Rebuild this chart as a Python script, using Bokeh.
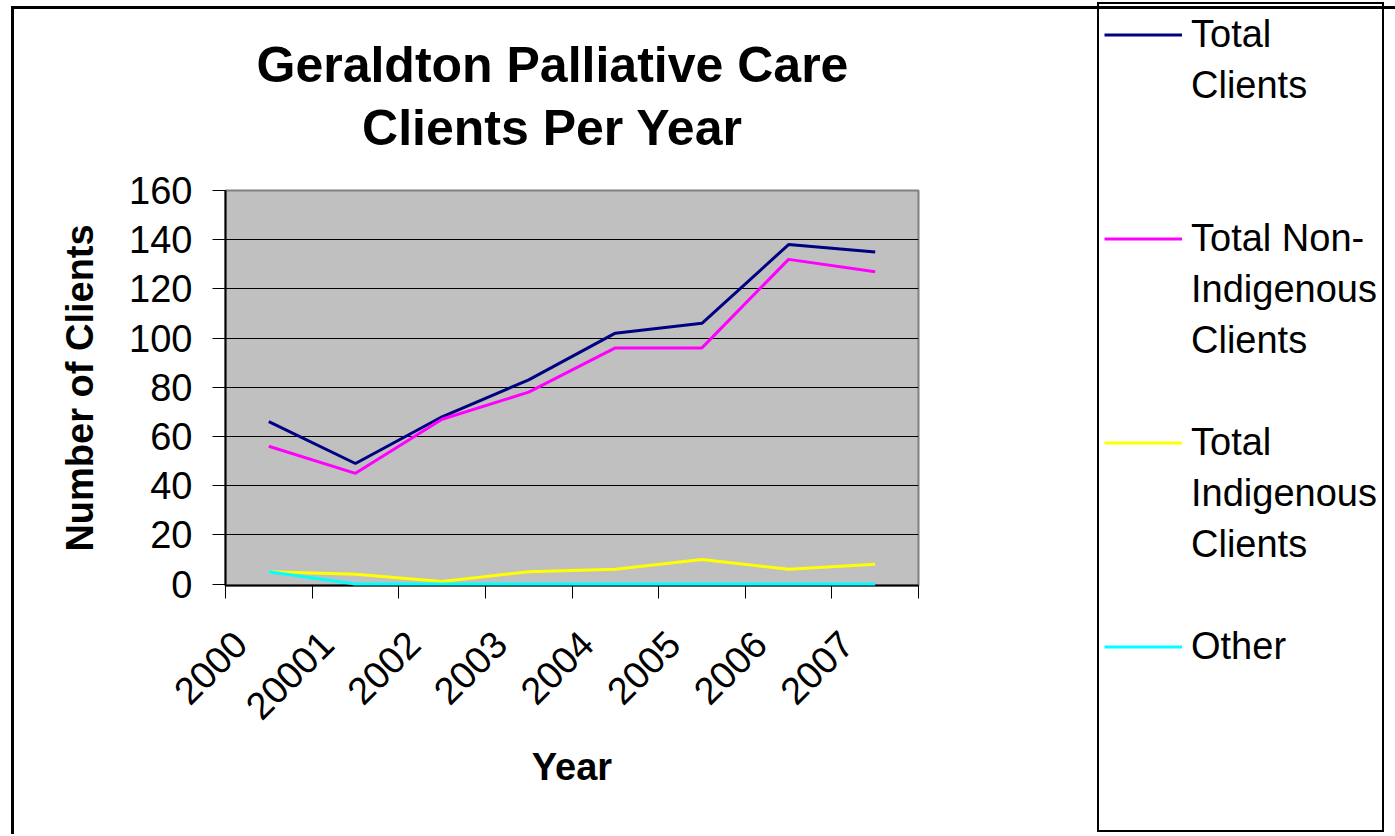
import numpy as np
from bokeh.plotting import figure
from bokeh.models import Range1d, FixedTicker, Title, Legend, LegendItem, InlineStyleSheet
from bokeh.embed import file_html
from bokeh.resources import INLINE

# ---------------- data ----------------
years = ["2000", "20001", "2002", "2003", "2004", "2005", "2006", "2007"]
total_clients = [66, 49, 68, 83, 102, 106, 138, 135]
total_non_indigenous = [56, 45, 67, 78, 96, 96, 132, 127]
total_indigenous = [5, 4, 1, 5, 6, 10, 6, 8]
other = [5, 0, 0, 0, 0, 0, 0, 0]
y_ticks = [0, 20, 40, 60, 80, 100, 120, 140, 160]
series_names = ["Total Clients", "Total Non-Indigenous Clients",
                "Total Indigenous Clients", "Other"]
legend_lines = [["Total", "Clients"],
                ["Total Non-", "Indigenous", "Clients"],
                ["Total", "Indigenous", "Clients"],
                ["Other"]]
series_colors = ["#000080", "#FF00FF", "#FFFF00", "#00FFFF"]
title_text = "Geraldton Palliative Care\nClients Per Year"
x_title = "Year"
y_title = "Number of Clients"

FONT = "Liberation Sans"

# ---------------- geometry (canvas pixels) ----------------
W, H = 1394, 834
FL, FR, FT, FB = 225, 918, 190, 585          # plot frame
CAT = 100                                     # x units per category
n = len(years)
LABEL_SHIFT = -33
xs = [CAT * i + CAT // 2 for i in range(n)]
label_pos = [x + LABEL_SHIFT for x in xs]
boundaries = [CAT * i for i in range(n + 1)]

p = figure(frame_width=FR - FL, frame_height=FB - FT,
           min_border_left=FL, min_border_right=W - FR,
           min_border_top=FT, min_border_bottom=H - FB,
           x_range=Range1d(0, CAT * n), y_range=Range1d(-0.6, 160),
           title=None, toolbar_location=None, output_backend="svg")

p.background_fill_color = "#C0C0C0"
p.border_fill_color = "white"
p.outline_line_color = "#808080"
p.outline_line_width = 2

# outer chart border (left and top edges)
p.stylesheets = [InlineStyleSheet(css=(
    ":host { position: relative; }"
    ":host::after { content: ''; position: absolute; left: 11px; top: 6px;"
    " right: 0px; bottom: 0px; border-left: 3px solid black;"
    " border-top: 3px solid black; pointer-events: none; z-index: 100; }"))]

# title (two centred lines)
p.add_layout(Title(text=title_text, align="left", offset=31, standoff=69,
                   vertical_align="bottom", text_align="center",
                   text_line_height=1.133,
                   text_font=FONT, text_font_size="50px", text_font_style="bold",
                   text_color="black"), "above")

# x axis
xa = p.xaxis[0]
xa.ticker = FixedTicker(ticks=label_pos, minor_ticks=boundaries)
xa.major_label_overrides = {pos: yr for pos, yr in zip(label_pos, years)}
xa.major_label_orientation = np.pi / 4
xa.major_tick_out = 13
xa.major_tick_in = 0
xa.major_tick_line_color = None
xa.minor_tick_out = 13
xa.minor_tick_in = 0
xa.minor_tick_line_color = "black"
xa.minor_tick_line_width = 1
xa.major_label_standoff = 39
xa.axis_label = x_title
xa.axis_label_standoff = 12

# y axis
ya = p.yaxis[0]
ya.ticker = FixedTicker(ticks=y_ticks)
ya.major_tick_out = 13
ya.major_tick_in = 0
ya.minor_tick_line_color = None
ya.major_tick_line_color = "black"
ya.major_label_standoff = 20
ya.axis_label = y_title
ya.axis_label_standoff = 25

for ax in (xa, ya):
    ax.axis_line_color = "black"
    ax.axis_line_width = 2
    ax.major_label_text_font = FONT
    ax.major_label_text_font_size = "38px"
    ax.major_label_text_color = "black"
    ax.axis_label_text_font = FONT
    ax.axis_label_text_font_size = "38px"
    ax.axis_label_text_font_style = "bold"
    ax.axis_label_text_color = "black"

p.xgrid.visible = False
p.ygrid.ticker = FixedTicker(ticks=y_ticks[1:])
p.ygrid.grid_line_color = "black"
p.ygrid.grid_line_width = 1

series = [total_clients, total_non_indigenous, total_indigenous, other]
renderers = []
for name, vals, col in zip(series_names, series, series_colors):
    renderers.append(p.line(xs, vals, line_color=col, line_width=3, level="overlay"))

# ---------------- legend (one row per printed line) ----------------
ROWS_PER_ITEM = 4
blank = p.line(x=[], y=[], line_alpha=0)
items = []
for r, lines in zip(renderers, legend_lines):
    rows = list(lines) + [" "] * (ROWS_PER_ITEM - len(lines))
    for j, s in enumerate(rows):
        items.append(LegendItem(label=s, renderers=[r] if j == 0 else [blank]))

ROW_H, PAD = 51, 5
LEG_LEFT, LEG_BOTTOM = 1097, 832
legend = Legend(items=items, location=(LEG_LEFT - FR, FB - LEG_BOTTOM),
                orientation="vertical", glyph_width=78, glyph_height=ROW_H,
                label_height=ROW_H, label_standoff=9,
                spacing=0, padding=PAD, margin=0,
                border_line_color="black", border_line_width=2,
                border_line_alpha=1,
                background_fill_color="white", background_fill_alpha=1,
                label_text_font=FONT, label_text_font_size="38px",
                label_text_color="black")
p.add_layout(legend, "right")

open("out.html", "w").write(file_html(p, INLINE))
